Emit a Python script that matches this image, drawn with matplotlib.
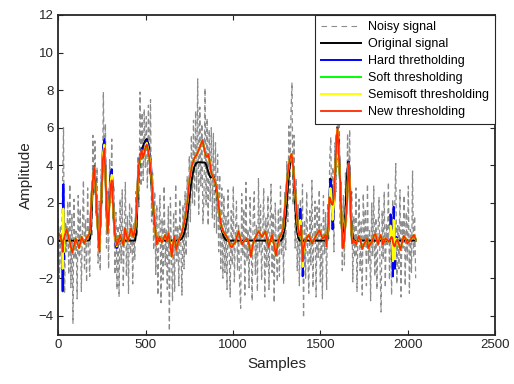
import matplotlib
matplotlib.use("Agg")
import matplotlib.pyplot as plt
import numpy as np

plt.rcParams['font.family'] = ['Liberation Sans', 'DejaVu Sans']

# noisy signal, one value every 6 samples
noisy_step = 6
noisy = [
    1.2, -2.0, 0.8, -1.5, 2.6, 6.0, -2.8, 1.0, -0.6, 2.1,
    -1.8, 3.0, -2.5, 1.4, -4.4, 2.2, -1.0, 0.5, -3.1, 2.4,
    -0.9, 1.7, -2.7, 0.6, 3.2, -1.6, 1.1, -2.2, 2.8, -0.4,
    -1.9, 2.3, 0.2, 5.6, 2.4, 5.3, 1.3, 3.9, -1.2, 2.1,
    -1.6, 3.8, 2.0, 7.9, 3.6, 6.2, -0.4, 2.6, -1.5, 4.3,
    2.0, 5.4, 1.2, 2.9, -1.8, 1.5, -2.6, 0.8, -3.0, 2.2,
    -1.2, 2.7, -2.4, 0.4, 3.1, -1.9, 1.3, -2.8, 2.0, -0.7,
    1.8, -2.3, 0.9, -1.0, 2.6, 0.2, 4.5, 1.8, 7.9, 2.9,
    6.8, 3.2, 7.0, 3.9, 6.6, 2.8, 7.2, 3.5, 7.5, 1.0,
    3.6, -0.5, 2.6, -1.8, 1.9, -2.9, 0.7, 2.4, -3.3, 1.2,
    -2.1, 2.9, -1.3, 0.6, -2.6, 1.8, -4.8, 2.3, -0.9, -3.2,
    1.5, -2.7, 3.0, -1.1, 0.8, -2.4, 2.2, -0.3, -2.9, 1.9,
    -1.5, 2.6, -0.8, 3.4, 0.2, 4.5, 1.0, 5.6, 2.0, 6.4,
    1.8, 6.9, 2.6, 8.6, 1.4, 7.1, 2.9, 6.2, 0.9, 2.2,
    8.1, 1.9, 6.5, 0.8, 5.9, 2.1, 6.0, 1.2, 5.7, 0.6,
    5.2, 0.4, 4.6, -0.6, 3.5, -1.5, 2.8, -2.0, 2.4, -1.7,
    1.3, -2.6, 2.7, -0.5, -3.0, 1.6, -1.3, 2.9, -2.2, 0.4,
    2.1, -1.6, 0.9, -2.3, -3.6, 2.5, -0.8, 1.7, -2.9, 3.1,
    -1.1, 0.6, -2.5, 2.3, -0.2, -3.2, 1.4, 2.6, -1.8, 0.8,
    -2.7, 3.3, -0.6, 1.9, -2.1, 0.3, 2.8, -3.0, 1.2, -1.4,
    2.4, -2.6, 0.7, 3.0, -1.7, 1.5, -3.3, 2.0, -0.4, -2.2,
    1.7, -1.9, 2.9, -0.8, 1.2, -2.3, 2.6, -0.5, 4.2, 1.0,
    6.1, 2.2, 6.8, 8.4, 1.9, 5.6, -0.4, 3.3, -1.6, 1.9,
    -2.4, 2.2, -1.0, 3.0, -4.1, 1.1, -2.0, 2.6, -0.6, -2.8,
    1.6, -1.3, 3.2, -2.5, 0.4, 2.1, -3.0, 1.8, -0.9, 2.7,
    -2.2, 0.9, -3.1, 2.4, -0.7, 1.5, -2.6, 2.0, 0.1, 4.4,
    5.5, 0.8, 3.9, -0.6, 5.2, 2.6, 7.7, 3.9, 7.2, 0.9,
    3.1, -1.6, 2.4, -1.3, 3.6, 0.9, 5.7, 2.6, 5.9, 0.2,
    2.6, -2.2, 1.3, -0.9, 2.8, -2.7, 0.5, 2.2, -1.6, 1.0,
    -2.9, 2.5, -0.3, 1.7, -2.4, 3.0, -1.2, 0.6, -3.2, 2.0,
    -0.8, 2.9, -1.9, 1.2, -2.6, 0.4, 2.3, -1.4, -3.8, 1.6,
    -1.0, 2.6, -2.5, 0.9, -0.2, 3.1, -2.1, 1.4, -2.9, 2.2,
    -0.6, 1.8, 4.1, -2.3, 0.8, -1.5, 2.7, -3.0, 1.1, -0.4,
    2.4, -2.4, 1.5, -1.1, 2.9, -2.8, 0.6, -1.7, 3.7, -0.9,
    1.3, -2.0,
]

# original signal
orig_x = [0, 175, 182, 190, 198, 205, 212, 220, 228, 235, 242, 250, 256, 262, 268, 275, 281, 288, 295, 300, 306, 312, 318, 325, 330,
          440, 447, 453, 460, 468, 476, 484, 492, 500, 507, 514, 520, 526, 533, 541, 548, 554, 561, 568,
          690, 700, 710, 720, 730, 740, 750, 760, 770, 780, 790, 800, 840, 848, 856, 864, 872, 880, 886, 892, 900, 908, 916, 924, 932, 940, 948, 958, 968,
          1275, 1285, 1295, 1305, 1315, 1323, 1330, 1336, 1342, 1350, 1358, 1366, 1374, 1382,
          1540, 1546, 1552, 1558, 1564, 1570, 1576, 1582, 1588, 1594, 1600, 1606, 1612, 1618, 1624, 1630, 1636, 1642, 1648, 1654, 1660, 1666, 1672, 1678, 1685, 1692, 2047]
orig_y = [0.0, 0.0, 0.1, 1.2, 3.2, 3.95, 3.3, 1.6, 0.6, 0.3, 0.9, 3.0, 4.8, 5.3, 4.3, 1.8, 0.6, 1.2, 2.8, 3.5, 3.7, 2.8, 1.0, 0.2, 0.0,
          0.0, 0.5, 2.0, 3.6, 4.3, 4.7, 5.0, 5.2, 5.35, 5.4, 5.2, 4.9, 4.0, 3.0, 2.0, 1.1, 0.6, 0.2, 0.0,
          0.0, 0.05, 0.15, 0.35, 0.75, 1.4, 2.2, 3.0, 3.55, 3.95, 4.12, 4.17, 4.15, 4.0, 3.75, 3.5, 3.35, 3.4, 3.45, 3.3, 3.0, 2.5, 1.9, 1.3, 0.75, 0.4, 0.2, 0.05, 0.0,
          0.0, 0.15, 0.6, 1.6, 2.9, 3.8, 4.35, 4.45, 4.1, 3.0, 1.6, 0.6, 0.15, 0.0,
          0.0, 0.6, 2.0, 3.3, 2.9, 1.6, 1.5, 2.6, 4.3, 5.6, 5.95, 5.1, 3.4, 1.6, 0.6, 0.3, 0.5, 1.2, 2.4, 3.6, 4.2, 3.9, 2.5, 1.0, 0.2, 0.0, 0.0]

# denoised curves, all given at the same sample positions
knots = [0, 8, 16, 20, 23, 25, 27, 29, 31, 33, 36, 48, 64, 80, 100, 119, 134, 149, 165, 176,
         182, 192, 205, 215, 225, 235, 245, 255, 264, 273, 283, 292, 299, 306, 314, 322, 329, 335,
         345, 354, 364, 373, 382, 390, 398, 408, 417, 430, 440,
         447, 459, 470, 478, 485, 491, 500, 507, 514, 520, 528, 535, 542, 549, 556,
         564, 579, 593, 612, 622, 631, 640, 650, 658, 665, 675, 688, 707,
         727, 741, 751, 765, 780, 794, 803, 812, 826, 837, 845, 851, 860, 868, 876, 889, 898, 908, 918, 927, 936, 946, 955, 965,
         975, 985, 994, 1003, 1013, 1022, 1032, 1042, 1052, 1062, 1071, 1080, 1090, 1096, 1103, 1112, 1122, 1135, 1147, 1156, 1166, 1176, 1185, 1195, 1204, 1214, 1224, 1235, 1246, 1256, 1267, 1277, 1287,
         1300, 1310, 1319, 1327, 1335, 1342, 1350, 1357, 1365, 1373, 1380,
         1386, 1390, 1395, 1399, 1403, 1411, 1422, 1434, 1444, 1453, 1462, 1472, 1484, 1495, 1505, 1514, 1522, 1529, 1535, 1540,
         1546, 1552, 1558, 1563, 1570, 1577, 1586, 1592, 1598, 1604, 1610, 1615, 1622, 1628, 1634, 1643, 1653, 1658, 1663, 1668, 1672, 1677, 1682, 1692,
         1705, 1720, 1730, 1740, 1750, 1759, 1768, 1774, 1785, 1797, 1808, 1816, 1824, 1831, 1838, 1845, 1852, 1858, 1866, 1873, 1882, 1892,
         1898, 1902, 1908, 1912, 1916, 1920, 1924, 1927, 1931, 1936, 1940,
         1950, 1959, 1968, 1978, 1988, 1998, 2008, 2017, 2027, 2036, 2047]

hard = [0.4, 0.3, 0.1, 0.2, -0.5, -2.7, 0.5, 3.0, 0.9, -1.0, 0.25, 0.6, 0.0, -0.65, 0.1, -0.4, 0.2, -0.15, 0.2, 0.3,
        0.6, 2.6, 3.9, 2.7, 0.8, -0.4, 2.2, 4.8, 5.4, 3.0, 0.4, 2.0, 3.3, 3.8, 2.0, 0.4, -0.3, -0.4,
        0.0, 0.3, 0.0, -0.25, 0.65, 0.3, 0.0, 0.3, 0.65, 0.2, 0.6,
        1.6, 4.0, 4.6, 4.9, 4.6, 4.9, 5.2, 5.3, 5.0, 4.7, 4.3, 3.5, 2.2, 1.4, 0.5,
        -0.2, 0.2, -0.1, 0.3, 0.0, 0.4, -0.2, -0.85, -0.1, 0.25, -0.5, 0.0, 0.4,
        1.2, 2.2, 3.2, 4.0, 4.4, 4.6, 4.8, 5.0, 5.35, 4.8, 4.5, 4.45, 4.6, 4.1, 3.6, 3.3, 3.1, 2.7, 1.9, 1.1, 0.7, 0.45, 0.35, 0.2,
        0.0, -0.3, -0.35, -0.2, -0.1, 0.2, 0.5, 0.1, -0.2, -0.05, 0.05, 0.1, -0.1, -0.4, -0.85, -0.3, 0.05, 0.3, 0.5, 0.35, 0.2, 0.35, 0.5, 0.1, -0.35, 0.0, 0.3, -0.2, -0.8, -0.2, 0.2, 0.35, 0.6,
        2.0, 3.2, 4.0, 4.4, 4.6, 4.2, 3.3, 2.5, 1.5, 0.6, 0.25,
        1.7, 1.0, 0.0, -1.9, -1.0, -0.1, 0.15, 0.3, 0.05, -0.15, 0.0, 0.2, 0.4, 0.55, 0.3, 0.1, 0.2, 0.3, -0.3, 0.3,
        1.1, 2.4, 3.2, 2.9, 0.6, 1.5, 3.9, 5.3, 6.0, 5.1, 3.9, 2.9, 1.0, -0.3, -0.3, 0.8, 2.0, 3.3, 4.2, 3.3, 2.0, 0.8, -0.15, 0.0,
        -0.2, 0.25, 0.0, -0.45, -0.2, -0.05, 0.1, -0.4, -0.2, -0.05, 0.3, 0.35, 0.0, -0.2, 0.1, 0.3, 0.1, -0.2, -0.05, 0.12, 0.05, -0.06,
        0.2, 1.4, 0.9, -0.8, -1.9, 1.8, 0.6, -1.5, -0.3, 0.2, 0.05,
        -0.2, -0.5, -0.1, 0.25, 0.1, -0.15, -0.05, 0.05, 0.2, 0.3, 0.05]

soft = [0.4, 0.3, 0.1, -0.1, -0.3, -0.8, -0.2, 0.4, 0.2, -0.1, 0.25, 0.6, 0.0, -0.65, 0.1, -0.4, 0.2, -0.15, 0.2, 0.3,
        0.6, 2.5, 3.8, 2.6, 0.8, -0.5, 2.0, 4.3, 4.8, 2.8, 0.5, 1.8, 2.8, 3.1, 1.8, 0.5, 0.0, -0.2,
        0.0, 0.3, 0.0, -0.25, 0.65, 0.3, 0.0, 0.3, 0.65, 0.2, 0.6,
        1.5, 3.8, 4.4, 4.7, 4.4, 4.6, 4.9, 5.0, 4.8, 4.5, 3.9, 3.2, 2.0, 1.3, 0.5,
        -0.2, 0.2, -0.1, 0.3, 0.0, 0.4, -0.2, -0.85, -0.1, 0.25, -0.5, 0.0, 0.4,
        1.2, 2.2, 3.2, 4.0, 4.4, 4.6, 4.8, 5.0, 5.35, 4.8, 4.5, 4.45, 4.6, 4.1, 3.6, 3.3, 3.1, 2.7, 1.9, 1.1, 0.7, 0.45, 0.35, 0.2,
        0.0, -0.3, -0.35, -0.2, -0.1, 0.2, 0.5, 0.1, -0.2, -0.05, 0.05, 0.1, -0.1, -0.4, -0.85, -0.3, 0.05, 0.3, 0.5, 0.35, 0.2, 0.35, 0.5, 0.1, -0.35, 0.0, 0.3, -0.2, -0.8, -0.2, 0.2, 0.35, 0.6,
        2.0, 3.2, 4.0, 4.4, 4.6, 4.2, 3.3, 2.5, 1.5, 0.6, 0.25,
        0.6, 0.8, -0.2, -1.2, -0.6, -0.1, 0.15, 0.3, 0.05, -0.15, 0.0, 0.2, 0.4, 0.55, 0.3, 0.1, 0.2, 0.3, -0.3, 0.3,
        1.0, 2.2, 2.4, 2.2, 1.5, 2.0, 3.7, 5.0, 5.8, 4.9, 3.7, 2.8, 1.0, -0.3, -0.3, 0.8, 2.0, 3.2, 4.0, 3.1, 2.0, 0.8, -0.1, 0.0,
        -0.2, 0.25, 0.0, -0.45, -0.2, -0.05, 0.1, -0.4, -0.2, -0.05, 0.3, 0.35, 0.0, -0.2, 0.1, 0.3, 0.1, -0.2, -0.05, 0.12, 0.05, -0.06,
        0.05, 0.4, 0.3, -0.1, -0.5, 0.5, 0.0, -0.6, -0.15, 0.05, 0.05,
        -0.2, -0.5, -0.1, 0.25, 0.1, -0.15, -0.05, 0.05, 0.2, 0.3, 0.05]

semisoft = [0.4, 0.3, 0.1, 0.0, -0.4, -1.5, 0.1, 1.7, 0.5, -0.6, 0.25, 0.6, 0.0, -0.65, 0.1, -0.4, 0.2, -0.15, 0.2, 0.3,
            0.6, 2.6, 3.9, 2.7, 0.8, -0.5, 2.1, 4.6, 5.1, 2.9, 0.4, 1.9, 3.1, 3.5, 1.9, 0.4, -0.1, -0.3,
            0.0, 0.3, 0.0, -0.25, 0.65, 0.3, 0.0, 0.3, 0.65, 0.2, 0.6,
            1.5, 3.9, 4.5, 4.8, 4.5, 4.7, 5.1, 5.2, 4.9, 4.6, 4.1, 3.3, 2.1, 1.3, 0.5,
            -0.2, 0.2, -0.1, 0.3, 0.0, 0.4, -0.2, -0.85, -0.1, 0.25, -0.5, 0.0, 0.4,
            1.2, 2.2, 3.2, 4.0, 4.4, 4.6, 4.8, 5.0, 5.35, 4.8, 4.5, 4.45, 4.6, 4.1, 3.6, 3.3, 3.1, 2.7, 1.9, 1.1, 0.7, 0.45, 0.35, 0.2,
            0.0, -0.3, -0.35, -0.2, -0.1, 0.2, 0.5, 0.1, -0.2, -0.05, 0.05, 0.1, -0.1, -0.4, -0.85, -0.3, 0.05, 0.3, 0.5, 0.35, 0.2, 0.35, 0.5, 0.1, -0.35, 0.0, 0.3, -0.2, -0.8, -0.2, 0.2, 0.35, 0.6,
            2.0, 3.2, 4.0, 4.4, 4.6, 4.2, 3.3, 2.5, 1.5, 0.6, 0.25,
            1.1, 0.8, -0.1, -1.4, -0.8, -0.1, 0.15, 0.3, 0.05, -0.15, 0.0, 0.2, 0.4, 0.55, 0.3, 0.1, 0.2, 0.3, -0.3, 0.3,
            1.0, 2.3, 2.8, 2.5, 1.1, 1.8, 3.8, 5.2, 5.95, 5.0, 3.8, 2.9, 1.0, -0.35, -0.3, 0.8, 2.0, 3.3, 4.1, 3.2, 2.0, 0.8, -0.15, 0.0,
            -0.2, 0.25, 0.0, -0.45, -0.2, -0.05, 0.1, -0.4, -0.2, -0.05, 0.3, 0.35, 0.0, -0.2, 0.1, 0.3, 0.1, -0.2, -0.05, 0.12, 0.05, -0.06,
            0.1, 0.8, 0.5, -0.4, -1.1, 1.1, 0.3, -1.0, -0.2, 0.1, 0.05,
            -0.2, -0.5, -0.1, 0.25, 0.1, -0.15, -0.05, 0.05, 0.2, 0.3, 0.05]

new = [0.4, 0.3, 0.1, -0.1, -0.3, -0.6, -0.3, 0.0, 0.1, 0.1, 0.25, 0.6, 0.0, -0.65, 0.1, -0.4, 0.2, -0.15, 0.2, 0.3,
       0.6, 2.6, 3.9, 2.6, 0.8, -0.6, 2.0, 4.3, 4.9, 2.8, 0.4, 1.8, 2.9, 3.2, 1.8, 0.5, 0.0, -0.25,
       0.0, 0.3, 0.0, -0.25, 0.65, 0.3, 0.0, 0.3, 0.65, 0.2, 0.6,
       1.5, 3.9, 4.5, 4.8, 4.4, 4.6, 5.0, 5.1, 4.8, 4.5, 3.9, 3.2, 2.0, 1.3, 0.5,
       -0.2, 0.2, -0.1, 0.3, 0.0, 0.4, -0.2, -0.85, -0.1, 0.25, -0.5, 0.0, 0.4,
       1.2, 2.2, 3.2, 4.0, 4.4, 4.6, 4.8, 5.0, 5.35, 4.8, 4.5, 4.45, 4.6, 4.1, 3.6, 3.3, 3.1, 2.7, 1.9, 1.1, 0.7, 0.45, 0.35, 0.2,
       0.0, -0.3, -0.35, -0.2, -0.1, 0.2, 0.5, 0.1, -0.2, -0.05, 0.05, 0.1, -0.1, -0.4, -0.85, -0.3, 0.05, 0.3, 0.5, 0.35, 0.2, 0.35, 0.5, 0.1, -0.35, 0.0, 0.3, -0.2, -0.8, -0.2, 0.2, 0.35, 0.6,
       2.0, 3.2, 4.0, 4.4, 4.6, 4.2, 3.3, 2.5, 1.5, 0.6, 0.25,
       0.4, 0.8, -0.2, -1.1, -0.5, -0.1, 0.15, 0.3, 0.05, -0.15, 0.0, 0.2, 0.4, 0.55, 0.3, 0.1, 0.2, 0.3, -0.3, 0.3,
       1.0, 2.3, 2.2, 2.0, 1.9, 2.2, 3.8, 5.2, 5.95, 5.0, 3.8, 2.9, 1.0, -0.4, -0.3, 0.8, 2.0, 3.3, 4.1, 3.2, 2.0, 0.8, -0.15, 0.0,
       -0.2, 0.25, 0.0, -0.45, -0.2, -0.05, 0.1, -0.4, -0.2, -0.05, 0.3, 0.35, 0.0, -0.2, 0.1, 0.3, 0.1, -0.2, -0.05, 0.12, 0.05, -0.06,
       0.05, 0.1, 0.2, 0.15, -0.1, -0.25, -0.3, -0.3, -0.1, 0.0, 0.05,
       -0.2, -0.5, -0.1, 0.25, 0.1, -0.15, -0.05, 0.05, 0.2, 0.3, 0.05]

labels = ['Noisy signal', 'Original signal', 'Hard thretholding', 'Soft thresholding',
          'Semisoft thresholding', 'New thresholding']

fig = plt.figure(figsize=(5.14, 3.84), dpi=100)
ax = fig.add_axes([0.1134, 0.1286, 0.8496, 0.8325])

noisy_x = np.arange(len(noisy)) * noisy_step
ax.plot(noisy_x, noisy, color='#8c8c8c', lw=0.9, dashes=(4, 2.5), label=labels[0])
ax.plot(orig_x, orig_y, color='black', lw=1.4, label=labels[1])
ax.plot(knots, hard, color='#0000ff', lw=1.4, label=labels[2])
ax.plot(knots, soft, color='#00ff00', lw=1.4, label=labels[3])
ax.plot(knots, semisoft, color='#ffff00', lw=1.4, label=labels[4])
ax.plot(knots, new, color='#ff2a00', lw=1.3, label=labels[5])

ax.set_xlim(0, 2500)
ax.set_ylim(-5, 12)
ax.set_xticks(np.arange(0, 2501, 500))
ax.set_yticks(np.arange(-4, 13, 2))
ax.tick_params(direction='in', top=True, right=True, length=3.5, width=0.8,
               labelsize=9.5, colors='#262626', labelcolor='#262626')
for s in ax.spines.values():
    s.set_linewidth(1.3)
    s.set_color('#262626')
ax.set_xlabel('Samples', fontsize=11, color='#262626')
ax.set_ylabel('Amplitude', fontsize=11, color='#262626')

leg = ax.legend(loc='upper right', fontsize=9, frameon=True, fancybox=False,
                borderaxespad=0, handlelength=3.2, handletextpad=0.5,
                labelspacing=0.4, borderpad=0.5)
leg.get_frame().set_edgecolor('#262626')
leg.get_frame().set_linewidth(0.8)
leg.get_frame().set_alpha(1)
# legend sample for the noisy line: thinner, longer dashes as in the picture
leg.get_lines()[0].set_dashes((5, 4))
leg.get_lines()[0].set_linewidth(0.8)

fig.savefig('out.png', dpi=100)
